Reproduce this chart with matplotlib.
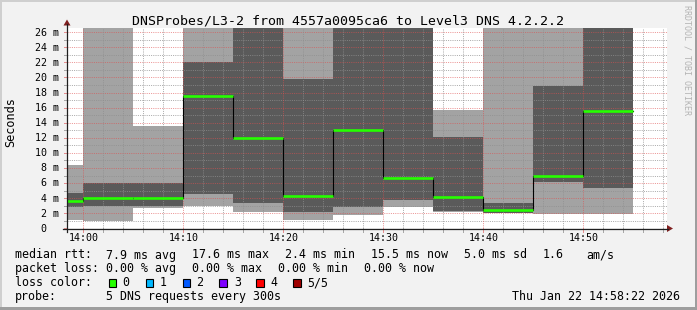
import matplotlib
matplotlib.use("Agg")
import matplotlib.pyplot as plt
import matplotlib.transforms as mtransforms
from matplotlib.patches import Rectangle, Polygon
from matplotlib.lines import Line2D

W, H, DPI = 697, 310, 100

# ---------------- data (minutes relative to 14:00, values in ms) ----------------
interval_start = [-5, 0, 5, 10, 15, 20, 25, 30, 35, 40, 45, 50]
interval_end = 55
ping_min = [1.1, 1.0, 2.7, 2.95, 2.2, 1.1, 1.8, 2.8, 2.2, 2.0, 1.95, 1.95]
ping_lo = [2.8, 3.0, 2.95, 4.55, 3.4, 2.2, 2.8, 3.75, 2.35, 2.0, 6.1, 5.4]
ping_hi = [4.7, 6.0, 6.05, 22.1, 30.0, 19.8, 30.0, 30.0, 12.15, 3.35, 18.9, 30.0]
ping_max = [8.4, 30.0, 13.6, 30.0, 30.0, 30.0, 30.0, 30.0, 15.7, 30.0, 30.0, 30.0]
median_rtt = [3.6, 4.0, 4.0, 17.6, 12.0, 4.3, 13.0, 6.7, 4.2, 2.4, 7.0, 15.6]

ytick_values = [0, 2, 4, 6, 8, 10, 12, 14, 16, 18, 20, 22, 24, 26]
ytick_labels = [" 0", " 2 m", " 4 m", " 6 m", " 8 m", "10 m", "12 m", "14 m",
                "16 m", "18 m", "20 m", "22 m", "24 m", "26 m"]
xtick_values = [0, 10, 20, 30, 40, 50]
xtick_labels = ["14:00", "14:10", "14:20", "14:30", "14:40", "14:50"]

title = "DNSProbes/L3-2 from 4557a0095ca6 to Level3 DNS 4.2.2.2"
legend_rows = [
    [("median rtt:", 16), ("7.9 ms avg", 107), ("17.6 ms max", 193),
     ("2.4 ms min", 286), ("15.5 ms now", 372), ("5.0 ms sd", 465),
     ("1.6", 544), ("am/s", 587)],
    [("packet loss:", 16), ("0.00 % avg", 107), ("0.00 % max", 193),
     ("0.00 % min", 279), ("0.00 % now", 365)],
]
loss_labels = ["0", "1", "2", "3", "4", "5/5"]
loss_colors = ["#26ff00", "#00b8ff", "#0059ff", "#7e00ff", "#ff0000", "#a00000"]
loss_box_x = [108.7, 145.7, 182.7, 219.3, 256.3, 293.3]
loss_label_x = [123.3, 160.5, 197.5, 235, 271.7, 308.3]

# ---------------- colours ----------------
BG = "#f2f2f2"
SHADE_A = "#cfcfcf"
SHADE_B = "#9e9e9e"
GRID = (0.56, 0.56, 0.56, 0.75)
MGRID = (0.87, 0.31, 0.31, 0.6)
ARROW = (0.5, 0.12, 0.12)
AXIS = (0.12, 0.12, 0.12)
SMOKE_LIGHT = "#a3a3a3"
SMOKE_DARK = "#5a5a5a"
MONO = "DejaVu Sans Mono"

fig = plt.figure(figsize=(W / DPI, H / DPI), dpi=DPI, facecolor=BG)


def fx(px):
    return px / W


def fy(py):
    return 1 - py / H


# plot area: x 67..667 px, y 28..228.3 px
ax = fig.add_axes([fx(67), fy(228.3), fx(667) - fx(67), fy(28) - fy(228.3)])
ax.set_facecolor("white")
ax.set_xlim(-1.63, 58.37)
ax.set_ylim(0, 26.56)
for s in ax.spines.values():
    s.set_visible(False)
ax.set_xticks([])
ax.set_yticks([])

# smoke
x_edges = interval_start + [interval_end]


def ext(v):
    return v + [v[-1]]


ax.fill_between(x_edges, ext(ping_min), ext(ping_lo), step="post",
                color=SMOKE_LIGHT, lw=0, zorder=1)
ax.fill_between(x_edges, ext(ping_lo), ext(ping_hi), step="post",
                color=SMOKE_DARK, lw=0, zorder=1)
ax.fill_between(x_edges, ext(ping_hi), ext(ping_max), step="post",
                color=SMOKE_LIGHT, lw=0, zorder=1)

# grid (dotted)
dot = (0, (1, 1.2))
for v in range(1, 27):
    major = (v % 2 == 0)
    ax.axhline(v, color=MGRID if major else GRID, lw=0.72, ls=dot, zorder=2)
for m in range(0, 60, 2):
    major = (m % 10 == 0)
    ax.axvline(m, color=MGRID if major else GRID, lw=0.72, ls=dot, zorder=2)

# median line
ax.step(x_edges, ext(median_rtt), where="post", color="black", lw=0.8, zorder=3)
ax.hlines(median_rtt, interval_start, x_edges[1:], color=loss_colors[0],
          lw=1.9, zorder=4)

# tick marks outside plot
tr_yx = mtransforms.blended_transform_factory(fig.transFigure, ax.transData)
tr_xy = mtransforms.blended_transform_factory(ax.transData, fig.transFigure)
for v in range(0, 27):
    major = (v % 2 == 0)
    fig.add_artist(Line2D([fx(63.5), fx(67)], [v, v], transform=tr_yx,
                          color=MGRID if major else GRID, lw=0.72))
for m in range(0, 60, 2):
    major = (m % 10 == 0)
    fig.add_artist(Line2D([m, m], [fy(228.3), fy(231.5)], transform=tr_xy,
                          color=MGRID if major else GRID, lw=0.72))

# axes lines with arrows
fig.add_artist(Line2D([fx(63), fx(668)], [fy(228.5), fy(228.5)], color=AXIS, lw=0.9))
fig.add_artist(Line2D([fx(67), fx(67)], [fy(232), fy(24)], color=AXIS, lw=0.9))
fig.add_artist(Polygon([[fx(667), fy(225)], [fx(667), fy(232)], [fx(673), fy(228.5)]],
                       closed=True, color=ARROW, lw=0))
fig.add_artist(Polygon([[fx(63.5), fy(25.5)], [fx(70.5), fy(25.5)], [fx(67), fy(19.5)]],
                       closed=True, color=ARROW, lw=0))

# tick labels
ylab_tr = mtransforms.offset_copy(tr_yx, fig=fig, x=0, y=-3.4, units="dots")
for v, lab in zip(ytick_values, ytick_labels):
    fig.text(fx(35), v, lab, transform=ylab_tr, ha="left", va="baseline",
             family=MONO, fontsize=7.2, color="black")
for m, lab in zip(xtick_values, xtick_labels):
    fig.text(m, fy(241), lab, transform=tr_xy, ha="center", va="baseline",
             family=MONO, fontsize=7.2, color="black")

# title, axis label, watermark
fig.text(0.5, fy(24), title, ha="center", va="baseline", family=MONO,
         fontsize=9.5, color="black")
fig.text(fx(11), fy(122), "Seconds", rotation=90, ha="center", va="center",
         family=MONO, fontsize=8.6, color="black")
fig.text(fx(687.5), fy(5), "RRDTOOL / TOBI OETIKER", rotation=-90, ha="center",
         va="top", family=MONO, fontsize=6, color="#b4b4b4")

# legend
LFS = 8.35
baselines = [258.5, 272.2, 286.0, 299.6]
for row, base in zip(legend_rows, baselines[:2]):
    for txt, xpx in row:
        fig.text(fx(xpx - 1), fy(base), txt, ha="left", va="baseline",
                 family=MONO, fontsize=LFS, color="black")
fig.text(fx(15), fy(baselines[2]), "loss color:", ha="left", va="baseline",
         family=MONO, fontsize=LFS, color="black")
for bx, lx, lab, col in zip(loss_box_x, loss_label_x, loss_labels, loss_colors):
    fig.add_artist(Rectangle((fx(bx), fy(286.5)), fx(7.5), 7.5 / H,
                             facecolor=col, edgecolor="black", lw=0.8))
    fig.text(fx(lx - 1), fy(baselines[2]), lab, ha="left", va="baseline",
             family=MONO, fontsize=LFS, color="black")
fig.text(fx(15), fy(baselines[3]), "probe:", ha="left", va="baseline",
         family=MONO, fontsize=LFS, color="black")
fig.text(fx(106), fy(baselines[3]), "5 DNS requests every 300s", ha="left",
         va="baseline", family=MONO, fontsize=LFS, color="black")
fig.text(fx(680.5), fy(baselines[3]), "Thu Jan 22 14:58:22 2026", ha="right",
         va="baseline", family=MONO, fontsize=LFS, color="black")

# 3D frame
fig.add_artist(Rectangle((0, fy(2)), 1, 2 / H, transform=fig.transFigure,
                         facecolor=SHADE_A, lw=0))
fig.add_artist(Rectangle((0, 0), fx(2), 1, transform=fig.transFigure,
                         facecolor=SHADE_A, lw=0))
fig.add_artist(Rectangle((0, 0), 1, 3 / H, transform=fig.transFigure,
                         facecolor=SHADE_B, lw=0))
fig.add_artist(Rectangle((fx(695), 0), fx(2), 1, transform=fig.transFigure,
                         facecolor=SHADE_B, lw=0))

fig.savefig("out.png", dpi=DPI, facecolor=BG)
